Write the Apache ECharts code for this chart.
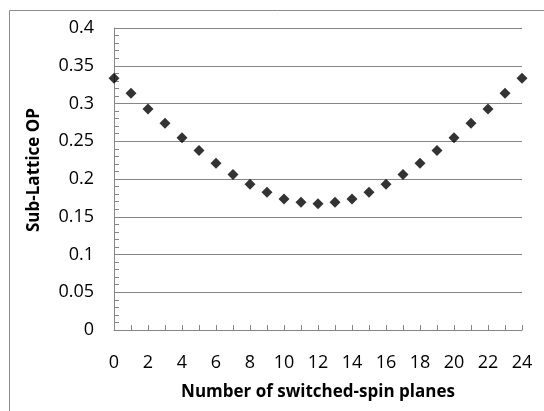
<!DOCTYPE html>
<html>
<head>
<meta charset="utf-8">
<script src="https://cdn.jsdelivr.net/npm/echarts@6/dist/echarts.min.js"></script>
<style>
html,body{margin:0;padding:0;background:#fff;}
#chart{width:544px;height:411px;}
</style>
</head>
<body>
<div id="chart"></div>
<script>
const planes = [0,1,2,3,4,5,6,7,8,9,10,11,12,13,14,15,16,17,18,19,20,21,22,23,24];
const subLatticeOP = [0.3335,0.3135,0.2927,0.2738,0.2547,0.2378,0.2208,0.2060,0.1930,0.1824,0.1735,0.1691,0.1673,0.1691,0.1735,0.1824,0.1930,0.2060,0.2208,0.2378,0.2547,0.2738,0.2927,0.3135,0.3335];
const xTitle = 'Number of switched-spin planes';
const yTitle = 'Sub-Lattice OP';

const FONT = '"Open Sans", sans-serif';
const GREY = '#868686';
const chart = echarts.init(document.getElementById('chart'), null, {renderer: 'canvas'});
chart.setOption({
  animation: false,
  backgroundColor: '#fff',
  graphic: [{
    type: 'rect', left: 7, top: 8,
    shape: {width: 600, height: 600},
    style: {fill: 'none', stroke: '#8c8c8c', lineWidth: 1}
  }],
  grid: {left: 114, right: 22, top: 28, bottom: 81, containLabel: false},
  xAxis: {
    type: 'value', min: 0, max: 24, interval: 2,
    name: xTitle, nameLocation: 'middle', nameGap: 54,
    nameTextStyle: {fontFamily: FONT, fontSize: 17, fontWeight: 'bold', color: '#000'},
    axisLine: {show: true, lineStyle: {color: GREY, width: 1}},
    axisTick: {show: true, inside: true, length: 5, lineStyle: {color: GREY}},
    minorTick: {show: true, splitNumber: 2, length: 5, lineStyle: {color: GREY}},
    axisLabel: {fontFamily: FONT, fontSize: 18, color: '#000', margin: 24},
    splitLine: {show: false}
  },
  yAxis: {
    type: 'value', min: 0, max: 0.4, interval: 0.05,
    name: yTitle, nameLocation: 'middle', nameGap: 71, nameRotate: 90,
    nameTextStyle: {fontFamily: FONT, fontSize: 17, fontWeight: 'bold', color: '#000', padding: [0, 0, 0, 18]},
    axisLine: {show: true, lineStyle: {color: GREY, width: 1}},
    axisTick: {show: true, inside: true, length: 5, lineStyle: {color: GREY}},
    minorTick: {show: true, splitNumber: 5, length: 5, lineStyle: {color: GREY}},
    axisLabel: {fontFamily: FONT, fontSize: 18, color: '#000', margin: 20},
    splitLine: {show: true, lineStyle: {color: GREY, width: 1}}
  },
  series: [{
    type: 'scatter',
    symbol: 'diamond',
    symbolSize: [11, 11],
    itemStyle: {color: '#000'},
    data: planes.map((p, i) => [p, subLatticeOP[i]])
  }]
});
</script>
</body>
</html>
